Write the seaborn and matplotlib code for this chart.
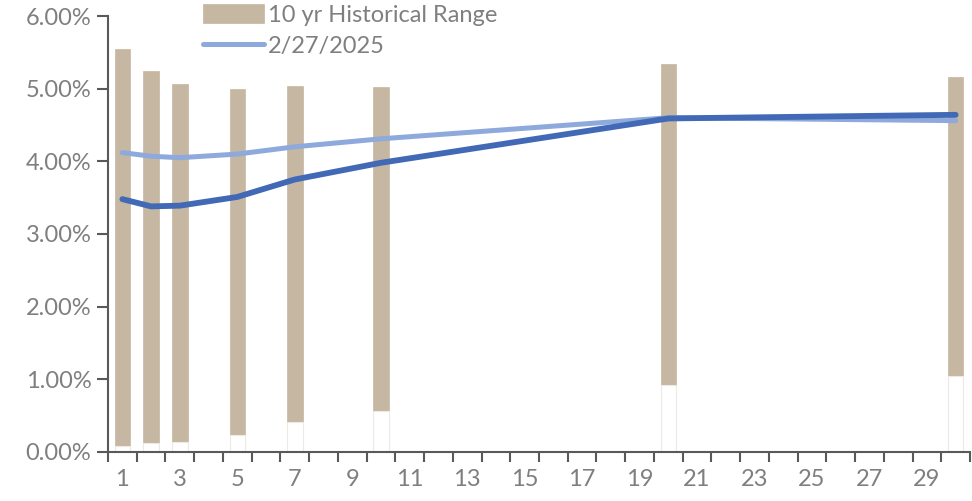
import numpy as np
import pandas as pd
import matplotlib
matplotlib.use("Agg")
import matplotlib.pyplot as plt
import seaborn as sns
from matplotlib.ticker import FuncFormatter

# ---- data ----
tenors = [1, 2, 3, 5, 7, 10, 20, 30]
hist_low = [0.08, 0.13, 0.14, 0.24, 0.41, 0.56, 0.92, 1.04]
hist_high = [5.54, 5.24, 5.07, 4.99, 5.04, 5.02, 5.34, 5.16]
curve_current = [3.48, 3.38, 3.39, 3.51, 3.75, 3.98, 4.59, 4.64]
curve_2_27_2025 = [4.12, 4.07, 4.05, 4.10, 4.20, 4.31, 4.60, 4.56]
x_labels = list(range(1, 30, 2))

sns.set_theme(style="white")
plt.rcParams['font.family'] = ['Lato', 'DejaVu Sans']

TAN = "#C6B7A2"
LIGHT = "#8EA9DB"
DARK = "#4169B6"
GRAY = "#7F7F7F"
AXC = "#595959"

df = pd.DataFrame({"tenor": tenors, "low": hist_low, "high": hist_high,
                   "cur": curve_current, "prev": curve_2_27_2025})

fig = plt.figure(figsize=(9.72, 5.01), dpi=100)
ax = fig.add_axes([108/972, (501-452)/501, (970-108)/972, (452-16)/501])

sns.barplot(data=df, x="tenor", y="high", native_scale=True, width=0.54,
            color=TAN, saturation=1, edgecolor=TAN, linewidth=0.5,
            errorbar=None, ax=ax, label="10 yr Historical Range")
sns.barplot(data=df, x="tenor", y="low", native_scale=True, width=0.54,
            color="white", saturation=1, edgecolor="#EDEAE4", linewidth=0.8,
            errorbar=None, ax=ax)
sns.lineplot(data=df, x="tenor", y="prev", color=LIGHT, linewidth=3.6,
             solid_capstyle="round", ax=ax, label="2/27/2025")
sns.lineplot(data=df, x="tenor", y="cur", color=DARK, linewidth=4.2,
             solid_capstyle="round", ax=ax)

ax.set_xlim(0.5, 30.5)
ax.set_ylim(0, 6)
ax.set_xlabel("")
ax.set_ylabel("")

ax.set_xticks(np.arange(0.5, 31, 1))
ax.set_xticklabels([])
ax.set_xticks(x_labels, minor=True)
ax.set_xticklabels([str(v) for v in x_labels], minor=True)
ax.tick_params(axis="x", which="major", direction="out", length=7, width=1.5,
               color=AXC, bottom=True)
ax.tick_params(axis="x", which="minor", length=0, pad=12, labelsize=17,
               labelcolor=GRAY)

ax.set_yticks(np.arange(0, 6.01, 1))
ax.yaxis.set_major_formatter(FuncFormatter(lambda v, p: f"{v:.2f}%"))
ax.tick_params(axis="y", direction="out", length=8, width=1.5, color=AXC,
               left=True, labelsize=17, labelcolor=GRAY, pad=4)

for s in ["top", "right"]:
    ax.spines[s].set_visible(False)
for s in ["left", "bottom"]:
    ax.spines[s].set_color(AXC)
    ax.spines[s].set_linewidth(1.5)

handles, labels = ax.get_legend_handles_labels()
order = [labels.index("10 yr Historical Range"), labels.index("2/27/2025")]
handles = [handles[i] for i in order]
labels = [labels[i] for i in order]
leg = fig.legend(handles, labels, loc="upper left",
                 bbox_to_anchor=(203/972, 1 - 4/501), frameon=False,
                 fontsize=17, handlelength=2.6, handleheight=0.85,
                 handletextpad=0.15, borderpad=0, borderaxespad=0,
                 labelspacing=0.4, labelcolor=GRAY)
if ax.get_legend() is not None:
    ax.get_legend().remove()

fig.savefig("out.png", dpi=100)
